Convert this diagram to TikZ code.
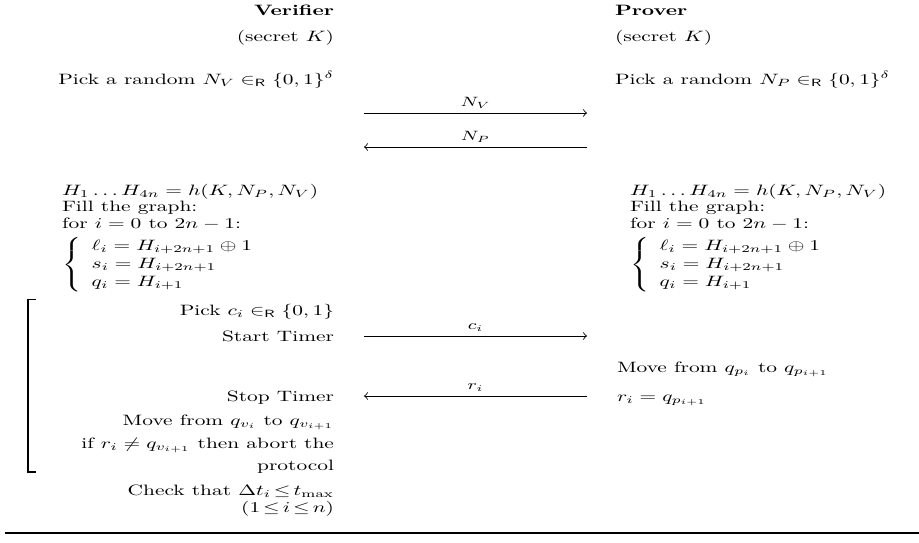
\documentclass[tikz,border=0pt]{standalone}
\usepackage{amsmath,amssymb,graphicx}
\newcommand{\sqz}[1]{\scalebox{1}[0.7]{#1}}
\begin{document}
\begin{tikzpicture}[x=0.467pt,y=-0.467pt,
  every node/.style={inner sep=0pt, outer sep=0pt},
  vtext/.style={anchor=base east},
  ptext/.style={anchor=base west},
  msg/.style={->, line width=0.4pt},
  lbl/.style={midway, anchor=base, yshift=3pt, font=\small}]
\useasboundingbox (0,0) rectangle (919,542);
% headers
\node[vtext, font=\bfseries] (vhead) at (334,15) {\sqz{Verifier}};
\node[ptext, font=\bfseries] (phead) at (615,15) {\sqz{Prover}};
\node[vtext] (vsec) at (334,41) {\sqz{(secret $K$)}};
\node[ptext] (psec) at (615,41) {\sqz{(secret $K$)}};
\node[vtext] (vpick) at (334,84) {\sqz{Pick a random $N_V \in_{\mathsf{R}} \{0,1\}^\delta$}};
\node[ptext] (ppick) at (615,84) {\sqz{Pick a random $N_P \in_{\mathsf{R}} \{0,1\}^\delta$}};
% nonce exchange
\coordinate (nvs) at (364,113); \coordinate (nve) at (587,113);
\coordinate (nps) at (587,147); \coordinate (npe) at (364,147);
\draw[msg] (nvs) -- node[lbl] {\sqz{$N_V$}} (nve);
\draw[msg] (nps) -- node[lbl] {\sqz{$N_P$}} (npe);
% graph computation
\foreach \side/\xx in {v/62, p/630}{
  \node[ptext] (\side h) at (\xx,195) {\sqz{$H_1\ldots H_{4n}=h(K,N_P,N_V)$}};
  \node[ptext] (\side f) at (\xx,211.5) {\sqz{Fill the graph:}};
  \node[ptext] (\side for) at (\xx,228.5) {\sqz{for $i=0$ to $2n-1$:}};
  \node[anchor=west] (\side arr) at (\xx,264.5) {\sqz{$\left\{\begin{array}{l}
    \ell_i = H_{i+2n+1}\oplus 1\\
    s_i = H_{i+2n+1}\\
    q_i = H_{i+1}
  \end{array}\right.$}};
}
% rapid bit exchange
\node[vtext] (vpc) at (334,315) {\sqz{Pick $c_i \in_{\mathsf{R}} \{0,1\}$}};
\node[vtext] (vst) at (334,341) {\sqz{Start Timer}};
\coordinate (cs) at (364,336); \coordinate (ce) at (587,336);
\draw[msg] (cs) -- node[lbl] {\sqz{$c_i$}} (ce);
\node[ptext] (pmove) at (617,372) {\sqz{Move from $q_{p_i}$ to $q_{p_{i+1}}$}};
\coordinate (rs) at (587,396); \coordinate (re) at (364,396);
\draw[msg] (rs) -- node[lbl] {\sqz{$r_i$}} (re);
\node[vtext] (vstop) at (334,401) {\sqz{Stop Timer}};
\node[ptext] (pr) at (617,401) {\sqz{$r_i = q_{p_{i+1}}$}};
\node[vtext] (vmove) at (334,425) {\sqz{Move from $q_{v_i}$ to $q_{v_{i+1}}$}};
\node[vtext] (vif) at (334,448) {\sqz{if $r_i \neq q_{v_{i+1}}$ then abort the}};
\node[vtext] (vproto) at (334,470) {\sqz{protocol}};
\node[vtext] (vcheck) at (334,495) {\sqz{\thickmuskip=2.5mu Check that $\Delta t_i \leq t_{\max}$}};
\node[vtext] (vrange) at (334,512) {\sqz{\thickmuskip=2.5mu $(1\leq i\leq n)$}};
% loop bracket
\coordinate (bt) at (36,299.5); \coordinate (bb) at (36,472);
\draw[line width=0.9pt] (bt) -- ++(-8,0) |- (bb);
% bottom rule
\coordinate (rl) at (5,533); \coordinate (rr) at (919,533);
\draw[line width=0.95pt] (rl) -- (rr);
\end{tikzpicture}
\end{document}
